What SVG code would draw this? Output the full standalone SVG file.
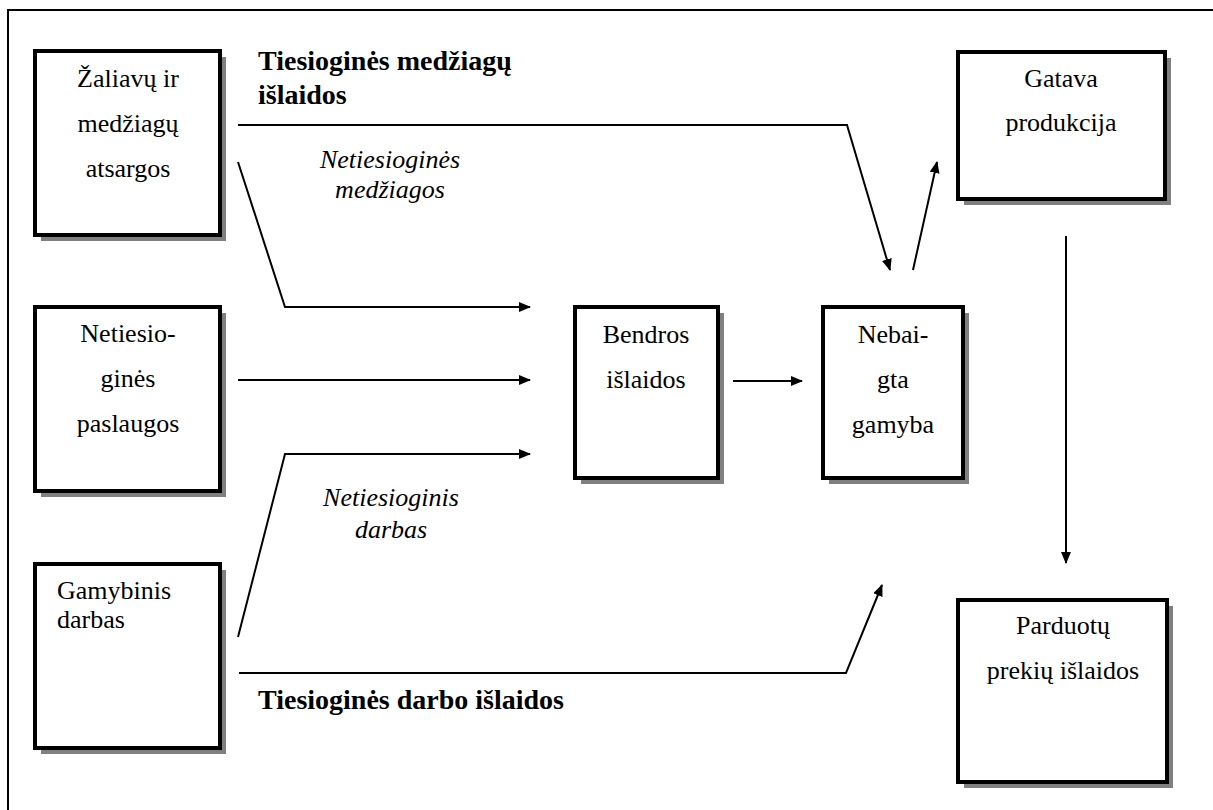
<svg xmlns="http://www.w3.org/2000/svg" width="1213" height="810" viewBox="0 0 1213 810">
<style>
.box{fill:#fff;stroke:#000;stroke-width:4}
.sh{fill:#808080}
text{font-family:'Liberation Serif','Times New Roman',serif;fill:#000}
.t{font-size:26px}
.c{text-anchor:middle}
.b{font-size:28px;font-weight:bold}
.i{font-size:26px;font-style:italic;text-anchor:middle}
.ln{fill:none;stroke:#000;stroke-width:2;marker-end:url(#ah)}
</style>
<defs>
<marker id="ah" markerWidth="12" markerHeight="10" refX="11" refY="5" orient="auto" markerUnits="userSpaceOnUse">
<path d="M0,0 L12,5 L0,10 Z" fill="#000"/>
</marker>
</defs>
<rect width="1213" height="810" fill="#fff"/>
<path d="M8,810 V10 H1213" fill="none" stroke="#000" stroke-width="2"/>

<g id="n-zaliavos">
<rect class="sh" x="41" y="57" width="185" height="184"/>
<rect class="box" x="35" y="51" width="185" height="184"/>
<text class="t c" x="128" y="87">Žaliavų ir</text>
<text class="t c" x="128" y="132">medžiagų</text>
<text class="t c" x="128" y="177">atsargos</text>
</g>
<g id="n-paslaugos">
<rect class="sh" x="41" y="313" width="185" height="184"/>
<rect class="box" x="35" y="307" width="185" height="184"/>
<text class="t c" x="128" y="342">Netiesio-</text>
<text class="t c" x="128" y="387">ginės</text>
<text class="t c" x="128" y="432">paslaugos</text>
</g>
<g id="n-darbas">
<rect class="sh" x="41" y="570" width="185" height="184"/>
<rect class="box" x="35" y="564" width="185" height="184"/>
<text class="t" x="57" y="599">Gamybinis</text>
<text class="t" x="57" y="628">darbas</text>
</g>
<g id="n-bendros">
<rect class="sh" x="581" y="313" width="143" height="171"/>
<rect class="box" x="575" y="307" width="143" height="171"/>
<text class="t c" x="646" y="343">Bendros</text>
<text class="t c" x="646" y="388">išlaidos</text>
</g>
<g id="n-nebaigta">
<rect class="sh" x="829" y="313" width="140" height="171"/>
<rect class="box" x="823" y="307" width="140" height="171"/>
<text class="t c" x="893" y="343">Nebai-</text>
<text class="t c" x="893" y="388">gta</text>
<text class="t c" x="893" y="433">gamyba</text>
</g>
<g id="n-gatava">
<rect class="sh" x="964" y="58" width="207" height="147"/>
<rect class="box" x="958" y="52" width="207" height="147"/>
<text class="t c" x="1061" y="87">Gatava</text>
<text class="t c" x="1061" y="131">produkcija</text>
</g>
<g id="n-parduotu">
<rect class="sh" x="964" y="606" width="209" height="182"/>
<rect class="box" x="958" y="600" width="209" height="182"/>
<text class="t c" x="1063" y="634">Parduotų</text>
<text class="t c" x="1063" y="679">prekių išlaidos</text>
</g>

<g id="connectors">
<polyline class="ln" points="238,125 847,125 890,270"/>
<line class="ln" x1="913" y1="270" x2="937" y2="162"/>
<polyline class="ln" points="238,162 285,307 530,307"/>
<line class="ln" x1="238" y1="380" x2="530" y2="380"/>
<polyline class="ln" points="238,637 285,454 530,454"/>
<line class="ln" x1="733" y1="381" x2="802" y2="381"/>
<polyline class="ln" points="239,673 846,673 882,585"/>
<line class="ln" x1="1066" y1="236" x2="1066" y2="563"/>
</g>

<g id="labels">
<text class="b" x="258" y="70">Tiesioginės medžiagų</text>
<text class="b" x="258" y="104">išlaidos</text>
<text class="i" x="390" y="168">Netiesioginės</text>
<text class="i" x="390" y="198">medžiagos</text>
<text class="i" x="391" y="506">Netiesioginis</text>
<text class="i" x="391" y="538">darbas</text>
<text class="b" x="258" y="709">Tiesioginės darbo išlaidos</text>
</g>
</svg>
